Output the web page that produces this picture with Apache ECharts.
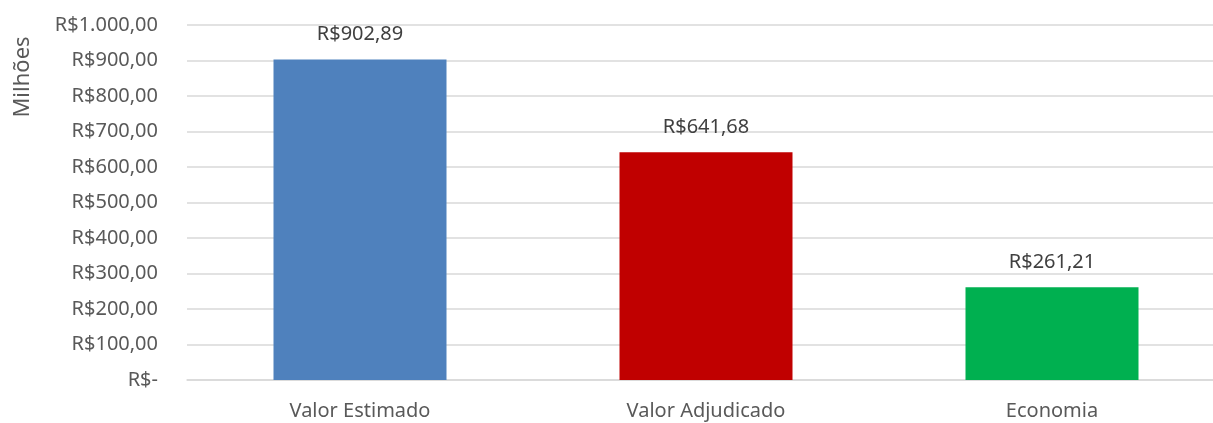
<!DOCTYPE html>
<html lang="pt-BR">
<head>
    <meta charset="UTF-8">
    <title>Valor Estimado x Adjudicado</title>
    <style>
        *{ margin:0; padding:0; }
        body{ background:#fff; overflow:hidden; }
        /* a área do gráfico passa um pouco da janela, como no original recortado */
        #box{ width:1225px; height:423px; }
    </style>
    <script src="https://cdn.jsdelivr.net/npm/echarts@6/dist/echarts.min.js"></script>
</head>
<body>
    <div id="box"></div>
    <script>
        // dados (milhões de R$)
        var categorias = ['Valor Estimado', 'Valor Adjudicado', 'Economia'];
        var valores = [902.89, 641.68, 261.21];
        var cores = ['#4F81BD', '#C00000', '#00B050'];

        // formata como moeda brasileira: R$1.000,00 / R$-
        function moeda(v){
            if (v === 0) return 'R$-';
            var partes = v.toFixed(2).split('.');
            var inteiro = partes[0].replace(/\B(?=(\d{3})+(?!\d))/g, '.');
            return 'R$' + inteiro + ',' + partes[1];
        }

        var fonte = 'Noto Sans';
        var cinza = '#595959';

        var myChart = echarts.init(document.getElementById('box'));
        var option = {
            animation: false,
            textStyle: { fontFamily: fonte },
            grid: {
                left: 187,
                right: 0,
                top: 25,
                bottom: 43,
                containLabel: false
            },
            graphic: [{
                type: 'text',
                x: 23,
                y: 77,
                rotation: Math.PI / 2,
                style: {
                    text: 'Milhões',
                    fill: cinza,
                    font: '22px "Noto Sans"',
                    align: 'center',
                    verticalAlign: 'middle'
                }
            }],
            xAxis: {
                type: 'category',
                data: categorias,
                axisLine: { show: true, lineStyle: { color: '#d9d9d9', width: 1.5 } },
                axisTick: { show: false },
                axisLabel: { color: cinza, fontSize: 20, margin: 21, fontFamily: fonte }
            },
            yAxis: {
                type: 'value',
                min: 0,
                max: 1000,
                interval: 100,
                axisLine: { show: false },
                axisTick: { show: false },
                splitLine: { lineStyle: { color: '#d9d9d9', width: 1.5 } },
                axisLabel: {
                    color: cinza,
                    fontSize: 20,
                    margin: 29,
                    fontFamily: fonte,
                    formatter: moeda
                }
            },
            series: [{
                type: 'bar',
                barWidth: '50%',
                data: valores.map(function(v, i){
                    return { value: v, itemStyle: { color: cores[i] } };
                }),
                label: {
                    show: true,
                    position: 'top',
                    distance: 15,
                    color: '#404040',
                    fontSize: 20,
                    fontFamily: fonte,
                    formatter: function(p){ return moeda(p.value); }
                }
            }]
        };
        myChart.setOption(option);
    </script>
</body>
</html>
